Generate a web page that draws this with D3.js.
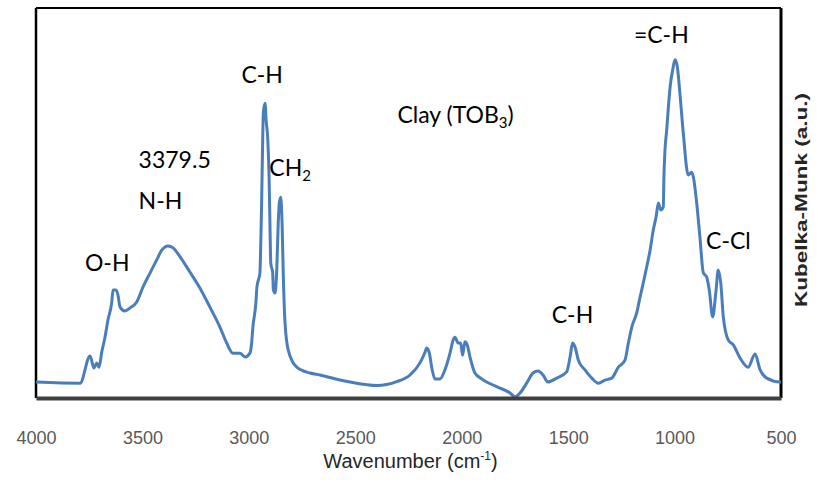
<!DOCTYPE html>
<html>
<head>
<meta charset="utf-8">
<script src="https://cdn.jsdelivr.net/npm/d3@7"></script>
<style>
  body { margin: 0; background: #fff; }
</style>
</head>
<body>
<div id="chart"></div>
<script>
// spectrum: wavenumber (cm-1) and Kubelka-Munk intensity (a.u., 0-100)
var wavenumber = [4000, 3793, 3746, 3728, 3715, 3704, 3691, 3676, 3662, 3644, 3638, 3624, 3615, 3605,
  3582, 3558, 3527, 3497, 3464, 3433, 3409, 3380, 3356, 3323, 3277, 3230, 3183, 3136, 3104, 3075,
  3042, 3018, 2995, 2987, 2981, 2967, 2962, 2948, 2944, 2940, 2935, 2932, 2924, 2919, 2911, 2905,
  2901, 2897, 2888, 2885, 2877, 2869, 2862, 2857, 2850, 2844, 2838, 2830, 2815, 2775, 2713, 2666,
  2572, 2525, 2399, 2305, 2243, 2196, 2172, 2165, 2152, 2141, 2126, 2102, 2079, 2055, 2040, 2032,
  2016, 2005, 1996, 1985, 1974, 1961, 1938, 1906, 1836, 1773, 1750, 1726, 1695, 1665, 1642, 1618,
  1595, 1554, 1507, 1491, 1479, 1468, 1452, 1421, 1389, 1358, 1327, 1295, 1264, 1233, 1217, 1201,
  1178, 1162, 1147, 1131, 1115, 1100, 1087, 1076, 1065, 1053, 1050, 1045, 1037, 1029, 1021, 1009,
  998, 987, 975, 959, 936, 920, 912, 896, 881, 865, 849, 837, 821, 805, 795, 783, 771, 748, 724,
  693, 654, 622, 598, 567, 505, 500];
var intensity = [4.1, 3.8, 10.8, 7.7, 9.0, 7.9, 11.8, 15.6, 20.0, 24.6, 27.7, 27.7, 26.4, 23.3,
  22.3, 23.1, 24.6, 28.5, 32.1, 35.4, 37.9, 39.0, 38.5, 36.2, 32.3, 28.2, 23.3, 18.2, 14.1, 11.5,
  11.5, 10.5, 11.5, 14.1, 18.2, 24.4, 28.5, 32.1, 39.7, 50.0, 66.2, 73.1, 75.6, 71.3, 66.2, 56.7,
  44.9, 34.6, 32.1, 27.7, 26.9, 32.8, 44.9, 50.0, 51.5, 44.9, 31.0, 19.2, 12.3, 7.9, 6.4, 5.9,
  4.6, 4.1, 3.2, 4.2, 5.9, 9.0, 11.8, 12.8, 11.5, 7.9, 4.9, 4.9, 7.2, 11.5, 14.9, 15.6,
  14.1, 14.1, 11.0, 14.4, 13.6, 10.5, 6.4, 4.9, 2.9, 1.3, 0.3, 1.3, 3.8, 6.4, 6.9, 5.9,
  4.1, 5.1, 6.7, 10.5, 14.1, 13.1, 9.7, 7.2, 5.1, 3.8, 4.6, 5.1, 7.9, 9.7, 14.1, 18.2,
  21.8, 25.9, 29.5, 33.6, 37.9, 43.1, 46.4, 50.0, 48.2, 49.0, 56.7, 63.6, 68.7, 74.6, 79.7, 84.1,
  86.7, 84.9, 78.2, 67.9, 57.2, 57.9, 56.7, 50.0, 41.3, 32.1, 31.0, 27.7, 20.8, 27.7, 32.8, 29.5, 20.8, 14.9, 13.6,
  10.3, 7.9, 11.3, 7.2, 5.1, 4.1, 4.1];

var xTicks = [4000, 3500, 3000, 2500, 2000, 1500, 1000, 500];

// band labels: text, subscript, wavenumber and intensity of the text's left baseline
var bandText = ["=C-H", "C-H", "Clay (TOB", "3379.5", "CH", "N-H", "O-H", "C-Cl", "C-H"];
var bandSub = ["", "", "3", "", "2", "", "", "", ""];
var bandClose = ["", "", ")", "", "", "", "", "", ""];
var bandWn = [1191, 3035, 2302, 3518, 2904, 3518, 3770, 852, 1577];
var bandY = [91.0, 80.8, 70.5, 59.0, 56.9, 48.5, 32.6, 38.2, 19.2];

var W = 818, H = 485;
var margin = { top: 8, right: 37, bottom: 87, left: 36 },
    width = W - margin.left - margin.right,
    height = H - margin.top - margin.bottom;

var svg = d3.select("#chart").append("svg")
    .attr("width", W)
    .attr("height", H)
    .style("font-family", "'Liberation Sans', Arial, sans-serif");

var g = svg.append("g")
    .attr("transform", "translate(" + margin.left + "," + margin.top + ")");

var x = d3.scaleLinear().domain([4000, 500]).range([0, width]);
var y = d3.scaleLinear().domain([0, 100]).range([height, 0]);

// frame
g.append("line").attr("x1", 0).attr("x2", width).attr("y1", 0).attr("y2", 0)
    .attr("stroke", "#000").attr("stroke-width", 2);
g.append("line").attr("x1", 0).attr("x2", 0).attr("y1", 0).attr("y2", height)
    .attr("stroke", "#000").attr("stroke-width", 2.5);
g.append("line").attr("x1", width).attr("x2", width).attr("y1", 0).attr("y2", height)
    .attr("stroke", "#000").attr("stroke-width", 3);

// spectrum
var pts = wavenumber.map(function(d, i) { return [d, intensity[i]]; });
g.append("path")
    .datum(pts)
    .attr("fill", "none")
    .attr("stroke", "#4a7ebb")
    .attr("stroke-width", 3)
    .attr("stroke-linejoin", "round")
    .attr("d", d3.line()
        .curve(d3.curveMonotoneX)
        .x(function(d) { return x(d[0]); })
        .y(function(d) { return y(d[1]); }));

// bottom axis
var xAxis = g.append("g")
    .attr("transform", "translate(0," + height + ")")
    .call(d3.axisBottom(x).tickValues(xTicks).tickSize(0).tickPadding(33).tickFormat(d3.format("d")));
xAxis.select(".domain").attr("stroke", "#404040").attr("stroke-width", 4);
xAxis.selectAll("text")
    .style("font-size", "18px")
    .style("font-family", "'Liberation Sans', Arial, sans-serif")
    .attr("fill", "#595959");

// axis titles
var xt = svg.append("text")
    .attr("x", margin.left + width / 2 + 2)
    .attr("y", 468)
    .attr("text-anchor", "middle")
    .style("font-size", "20px")
    .attr("fill", "#262626");
xt.append("tspan").text("Wavenumber (cm");
xt.append("tspan").attr("dy", -8).style("font-size", "12px").text("-1");
xt.append("tspan").attr("dy", 8).text(")");

svg.append("text")
    .attr("transform", "translate(807,200) rotate(-90)")
    .attr("text-anchor", "middle")
    .attr("textLength", 214)
    .attr("lengthAdjust", "spacingAndGlyphs")
    .style("font-size", "16px")
    .style("font-weight", "bold")
    .attr("fill", "#262626")
    .text("Kubelka-Munk (a.u.)");

// band labels
bandText.forEach(function(t, i) {
    var lab = g.append("text")
        .attr("x", x(bandWn[i]))
        .attr("y", y(bandY[i]))
        .style("font-family", "Lato, 'Open Sans', sans-serif")
        .style("font-size", "23px")
        .attr("fill", "#000");
    lab.append("tspan").text(t);
    if (bandSub[i]) {
        lab.append("tspan").attr("dy", 5).style("font-size", "15px").text(bandSub[i]);
        if (bandClose[i]) lab.append("tspan").attr("dy", -5).text(bandClose[i]);
    }
});
</script>
</body>
</html>
